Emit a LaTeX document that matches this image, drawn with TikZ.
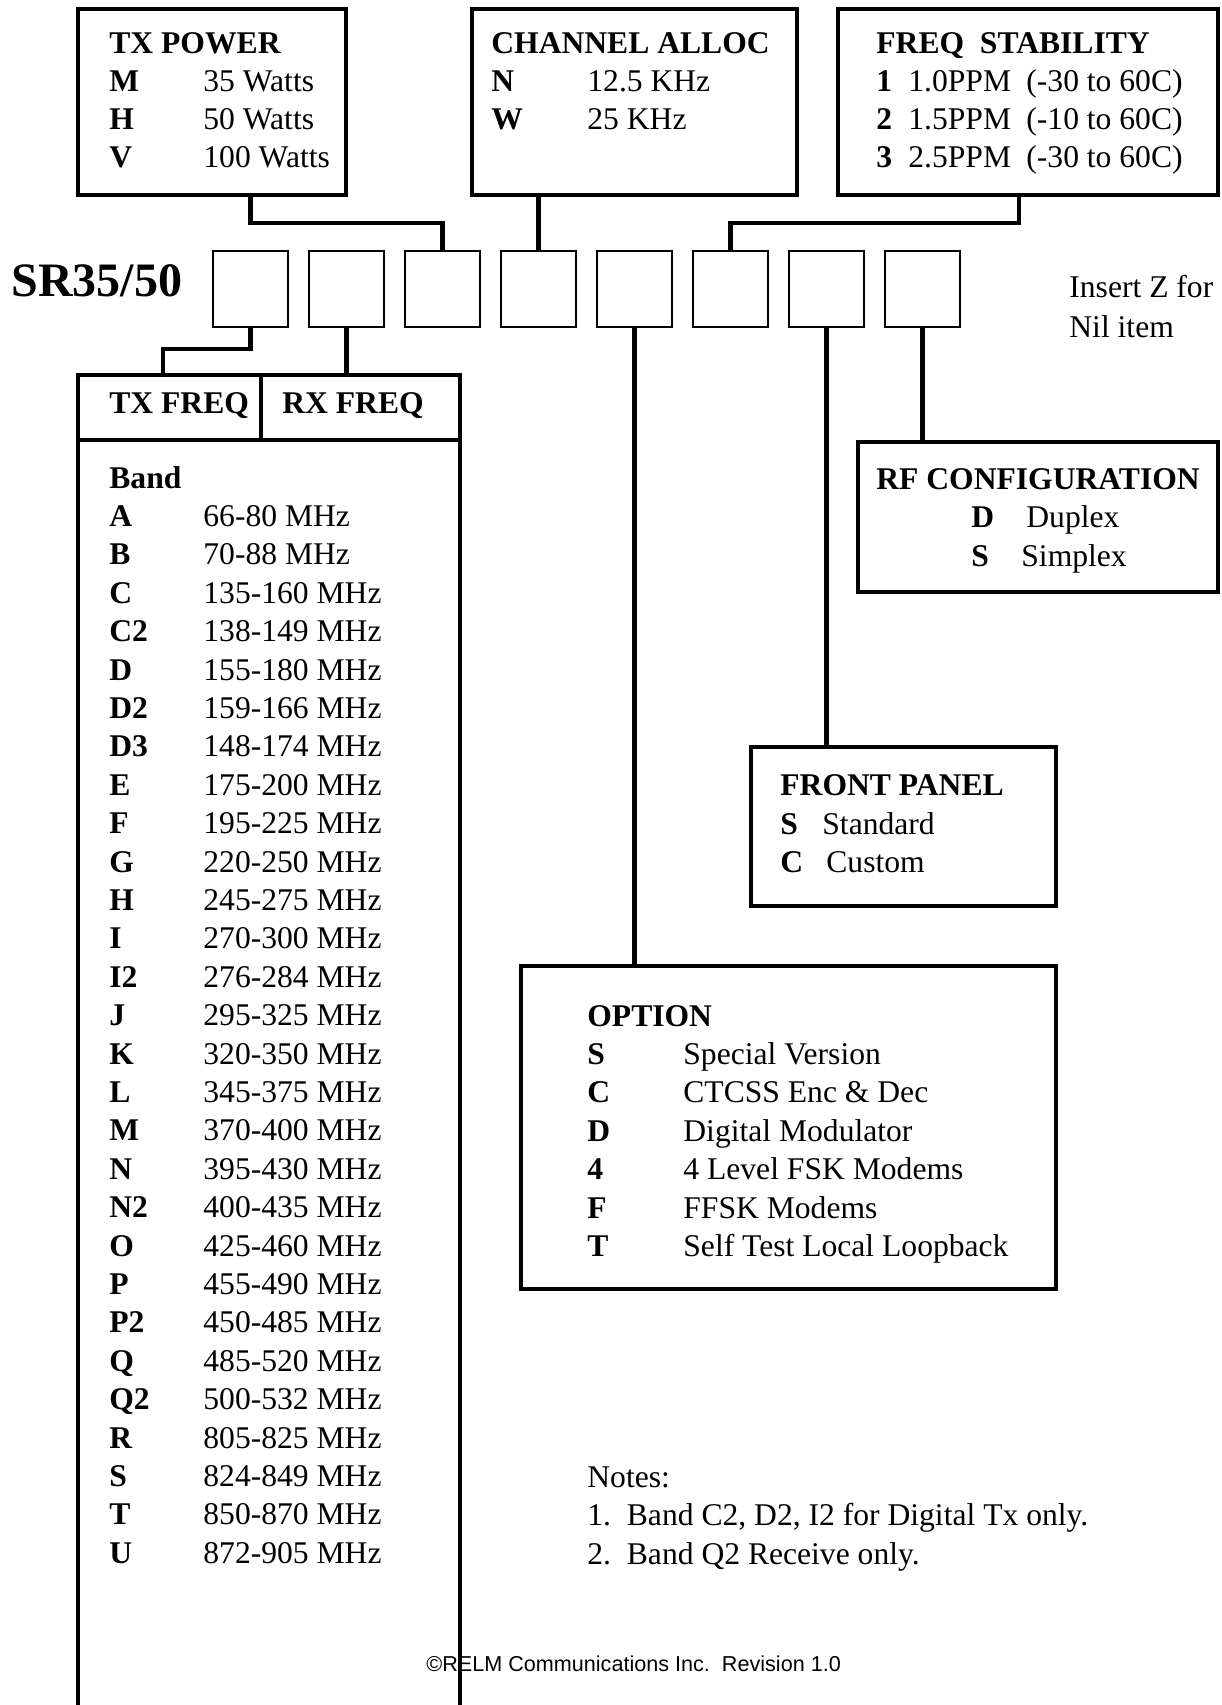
\documentclass[tikz,border=0pt]{standalone}
\usepackage{fontspec}
\setmainfont{Liberation Serif}
\newfontfamily\relmsans{Liberation Sans}
\usepackage{tikz}

\tikzset{
	bigbox/.style={draw, line width=2.25pt, anchor=north west, inner sep=0pt, outer sep=0pt},
	slot/.style={draw, line width=1pt, anchor=north west, inner sep=0pt, outer sep=0pt,
		minimum width=37.5pt, minimum height=38pt},
	link/.style={line width=2.25pt},
	txt/.style={anchor=base west, inner sep=0pt, font=\fontsize{15.8}{19}\selectfont},
	hd/.style={txt, font=\fontsize{15.8}{19}\selectfont\bfseries},
}

\begin{document}
\begin{tikzpicture}[x=0.5pt,y=-0.5pt]
			\useasboundingbox (0,0) rectangle (1222,1705);
			% option boxes across the top
			\node[bigbox, minimum width=134pt, minimum height=93pt] (txpow) at (78,9) {};
			\node[bigbox, minimum width=162.5pt, minimum height=93pt] (chan) at (472,9) {};
			\node[bigbox, minimum width=190pt, minimum height=93pt] (stab) at (838,9) {};
			\node[hd] (txpowT) at (109,53) {TX POWER};
			\foreach \l/\v [count=\n] in {M/35 Watts,H/50 Watts,V/100 Watts}{
				\node[hd] (txpowL\n) at (109,53+38*\n) {\l};
				\node[txt] (txpowV\n) at (203,53+38*\n) {\v};
			}
			\node[hd] (chanT) at (491,53) {CHANNEL ALLOC};
			\foreach \l/\v [count=\n] in {N/12.5 KHz,W/25 KHz}{
				\node[hd] (chanL\n) at (491,53+38*\n) {\l};
				\node[txt] (chanV\n) at (587,53+38*\n) {\v};
			}
			\node[hd] (stabT) at (876,53) {FREQ\ \ STABILITY};
			\foreach \p/\r [count=\n] in {1.0PPM/(-30 to 60C),1.5PPM/(-10 to 60C),2.5PPM/(-30 to 60C)}{
				\node[hd] (stabL\n) at (876,53+38*\n) {\n};
				\node[txt] (stabP\n) at (908,53+38*\n) {\p};
				\node[txt] (stabR\n) at (1026,53+38*\n) {\r};
			}

			% model number and the eight slots
			\node[anchor=base west, inner sep=0pt, font=\fontsize{24}{28}\selectfont\bfseries] (model) at (11,296) {SR35/50};
			\foreach \i in {1,...,8}{
				\node[slot] (k\i) at ({213+96*(\i-1)},251) {};
			}
			\node[txt] (nil1) at (1069,297) {Insert Z for};
			\node[txt] (nil2) at (1069,337) {Nil item};

			% band table
			\node[bigbox, minimum width=91.5pt, minimum height=32.5pt] (txh) at (78,375) {};
			\node[bigbox, minimum width=99.5pt, minimum height=32.5pt] (rxh) at (261,375) {};
			\node[bigbox, minimum width=191pt, minimum height=640pt] (band) at (78,440) {};
			\node[hd] (txhT) at (109,413) {TX FREQ};
			\node[hd] (rxhT) at (282,413) {RX FREQ};
			\node[hd] (bandT) at (109,488) {Band};
			\foreach \l/\v [count=\n] in {A/66-80 MHz,B/70-88 MHz,C/135-160 MHz,C2/138-149 MHz,
				D/155-180 MHz,D2/159-166 MHz,D3/148-174 MHz,E/175-200 MHz,F/195-225 MHz,
				G/220-250 MHz,H/245-275 MHz,I/270-300 MHz,I2/276-284 MHz,J/295-325 MHz,
				K/320-350 MHz,L/345-375 MHz,M/370-400 MHz,N/395-430 MHz,N2/400-435 MHz,
				O/425-460 MHz,P/455-490 MHz,P2/450-485 MHz,Q/485-520 MHz,Q2/500-532 MHz,
				R/805-825 MHz,S/824-849 MHz,T/850-870 MHz,U/872-905 MHz}{
				\node[hd] (bandL\n) at (109,{488+38.4*\n}) {\l};
				\node[txt] (bandV\n) at (203,{488+38.4*\n}) {\v};
			}

			% right hand boxes
			\node[bigbox, minimum width=180pt, minimum height=75pt] (rfcfg) at (858,442) {};
			\node[hd] (rfcfgT) at (876,489) {RF CONFIGURATION};
			\node[hd] (rfcfgL1) at (971,527) {D};
			\node[txt] (rfcfgV1) at (1026,527) {Duplex};
			\node[hd] (rfcfgL2) at (971,566) {S};
			\node[txt] (rfcfgV2) at (1021,566) {Simplex};

			\node[bigbox, minimum width=152.5pt, minimum height=79.5pt] (front) at (751,747) {};
			\node[hd] (frontT) at (780,795) {FRONT PANEL};
			\node[hd] (frontL1) at (780,834) {S};
			\node[txt] (frontV1) at (822,834) {Standard};
			\node[hd] (frontL2) at (780,872) {C};
			\node[txt] (frontV2) at (826,872) {Custom};

			\node[bigbox, minimum width=267.5pt, minimum height=161.5pt] (opt) at (521,966) {};
			\node[hd] (optT) at (587,1026) {OPTION};
			\foreach \l/\v [count=\n] in {S/Special Version,C/CTCSS Enc \& Dec,D/Digital Modulator,
				4/4 Level FSK Modems,F/FFSK Modems,T/Self Test Local Loopback}{
				\node[hd] (optL\n) at (587,{1026+38.4*\n}) {\l};
				\node[txt] (optV\n) at (683,{1026+38.4*\n}) {\v};
			}

			% connectors
			\draw[link] (txpow.south -| k1.north) -- ++(0,28) -| (k3.north);
			\draw[link] (chan.south -| k4.north) -- (k4.north);
			\draw[link] ([xshift=-4.5pt]stab.south) -- ++(0,28) -| (k6.north);
			\draw[link] (k1.south) -- ++(0,22) -| ([xshift=-3.25pt]txh.north);
			\draw[link] (k2.south) -- (k2.south |- rxh.north);
			\draw[link] (k5.south) -- (k5.south |- opt.north);
			\draw[link] (k7.south) -- (k7.south |- front.north);
			\draw[link] (k8.south) -- (k8.south |- rfcfg.north);

			% notes and footer
			\node[txt] (note0) at (587,1487) {Notes:};
			\node[txt] (note1) at (587,1525) {1.\ \ Band C2, D2, I2 for Digital Tx only.};
			\node[txt] (note2) at (587,1564) {2.\ \ Band Q2 Receive only.};
			\node[anchor=base west, inner sep=0pt, font=\relmsans\fontsize{10.8}{13}\selectfont] (foot) at (426,1671) {\textcopyright RELM Communications Inc.\ \ Revision 1.0};
		\end{tikzpicture}
\end{document}
